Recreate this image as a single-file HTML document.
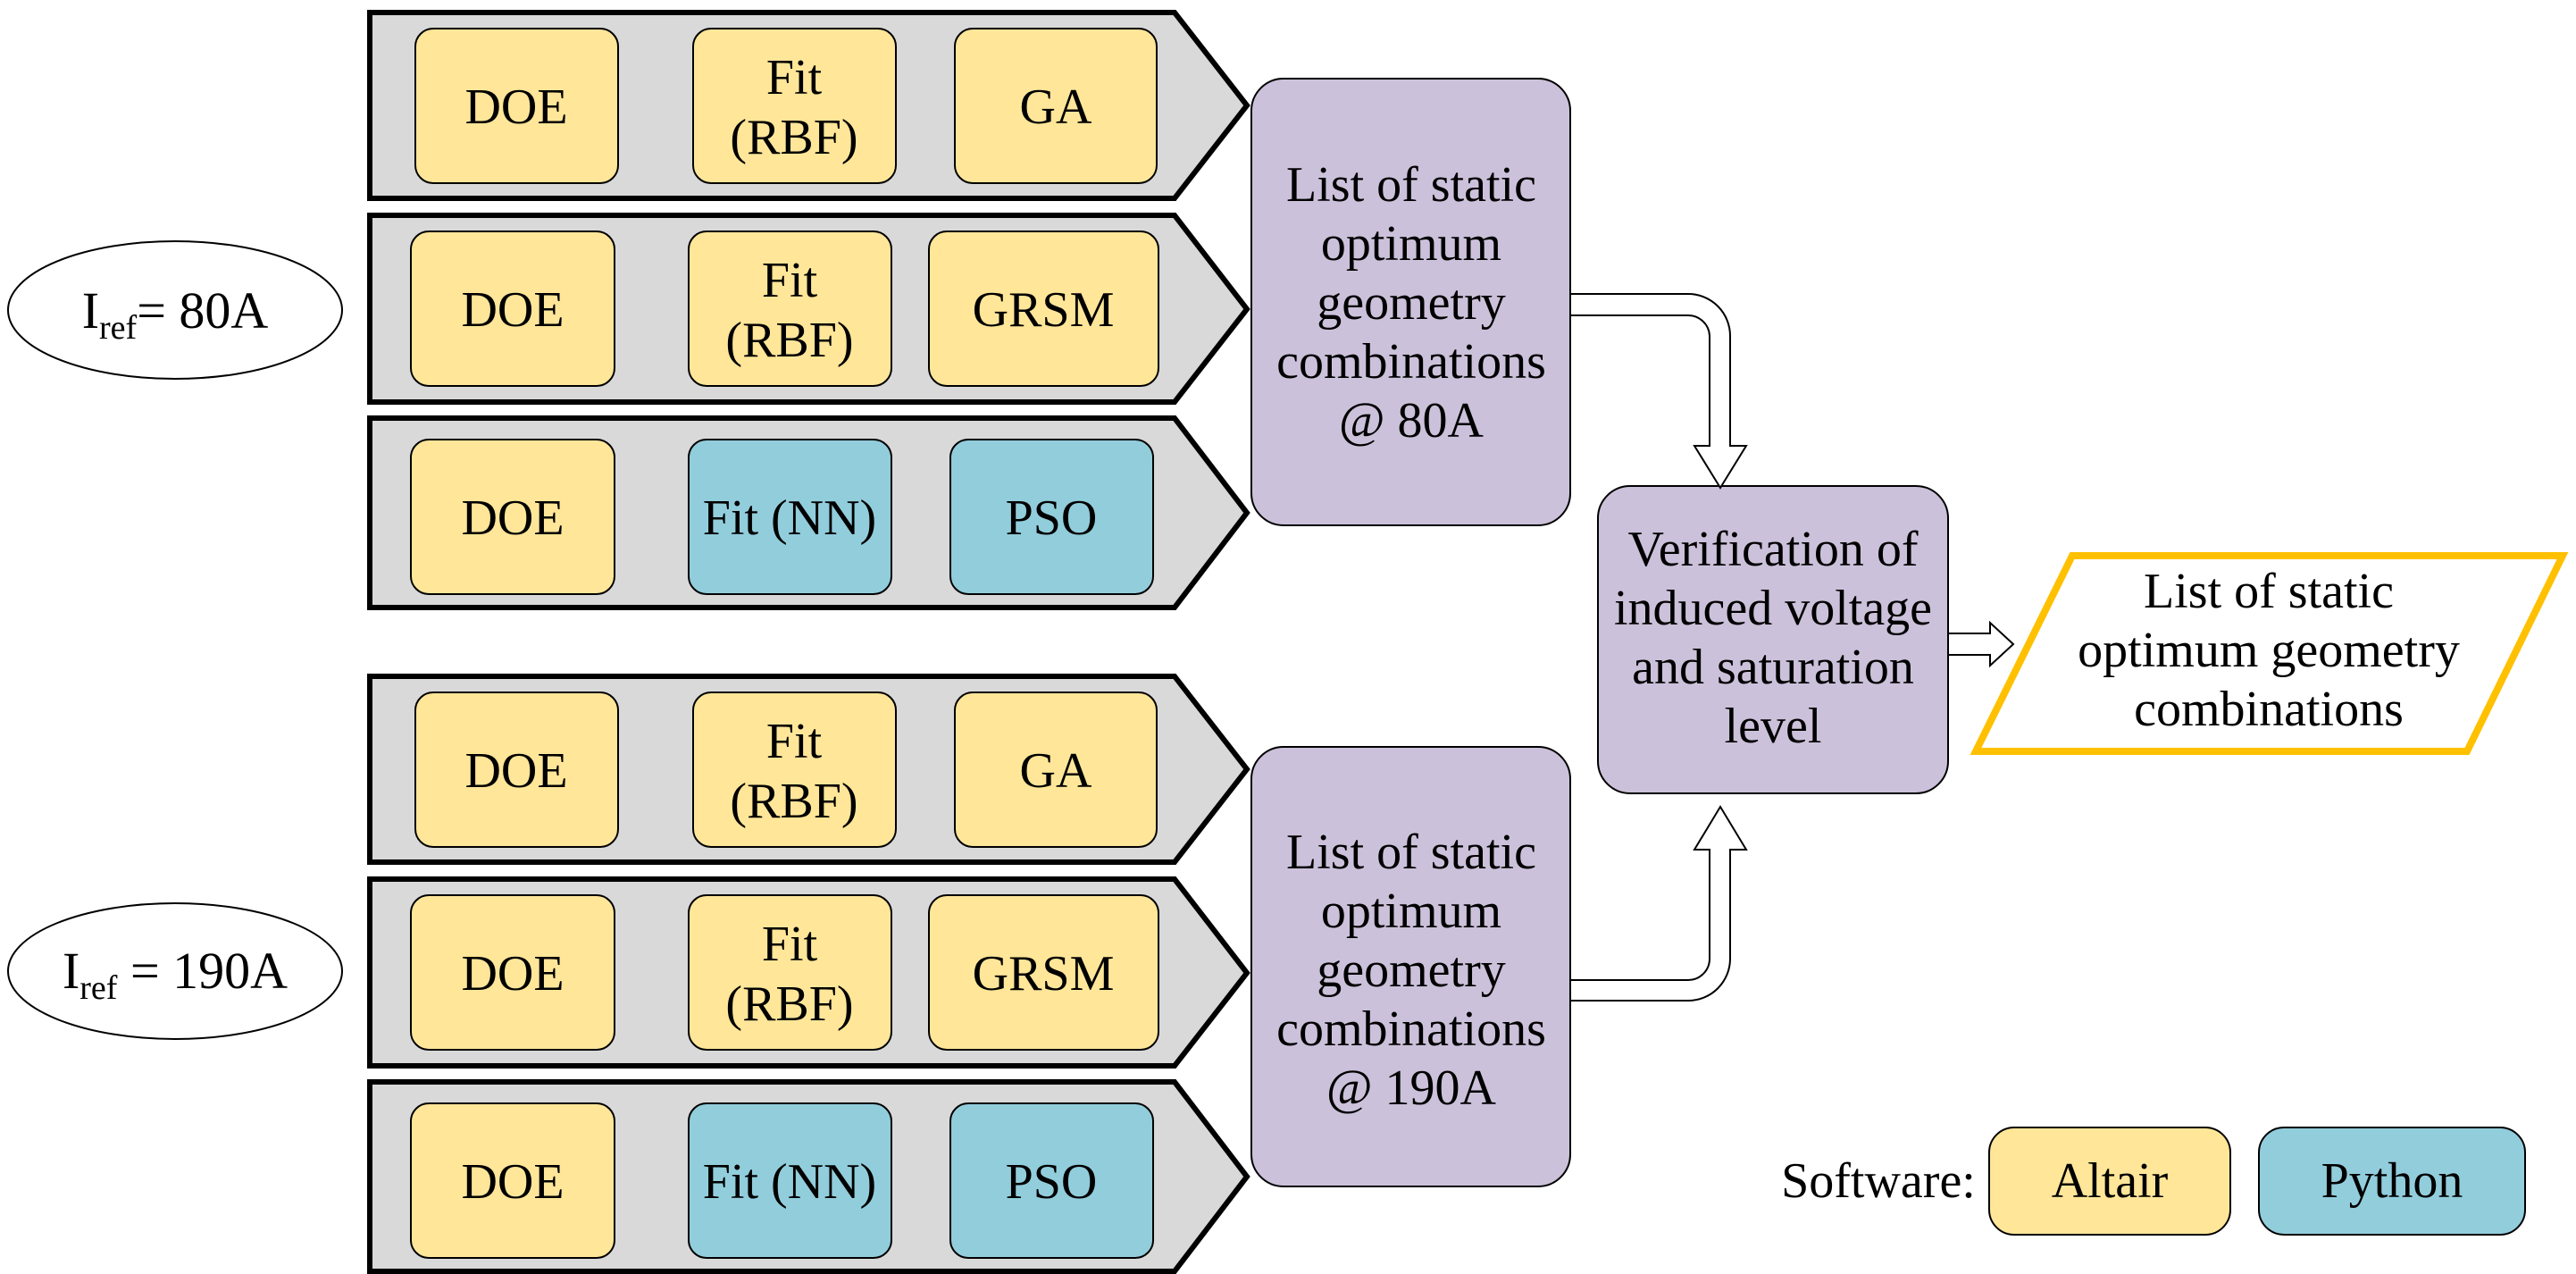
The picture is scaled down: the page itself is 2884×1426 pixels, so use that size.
<!DOCTYPE html>
<html><head><meta charset="utf-8"><style>
html,body{margin:0;padding:0;background:#fff;font-family:"Liberation Serif",serif;}
svg{display:block;}
svg *, svg text, svg tspan{font-family:"Liberation Serif",serif !important;}
</style></head><body>
<svg width="2884" height="1426" viewBox="0 0 2884 1426" xmlns="http://www.w3.org/2000/svg" font-family="Liberation Serif" font-size="56" text-anchor="middle">
<g>
  <polygon points="414,14 1315,14 1396,118 1315,222 414,222" fill="#d9d9d9" stroke="#000" stroke-width="6"/>
  <polygon points="414,241 1315,241 1396,346 1315,450 414,450" fill="#d9d9d9" stroke="#000" stroke-width="6"/>
  <polygon points="414,468 1315,468 1396,574 1315,680 414,680" fill="#d9d9d9" stroke="#000" stroke-width="6"/>
  <rect x="465" y="32" width="227" height="173" rx="20" fill="#ffe699" stroke="#000" stroke-width="2"/>
  <rect x="776" y="32" width="227" height="173" rx="20" fill="#ffe699" stroke="#000" stroke-width="2"/>
  <rect x="1069" y="32" width="226" height="173" rx="20" fill="#ffe699" stroke="#000" stroke-width="2"/>
  <rect x="460" y="259" width="228" height="173" rx="20" fill="#ffe699" stroke="#000" stroke-width="2"/>
  <rect x="771" y="259" width="227" height="173" rx="20" fill="#ffe699" stroke="#000" stroke-width="2"/>
  <rect x="1040" y="259" width="257" height="173" rx="20" fill="#ffe699" stroke="#000" stroke-width="2"/>
  <rect x="460" y="492" width="228" height="173" rx="20" fill="#ffe699" stroke="#000" stroke-width="2"/>
  <rect x="771" y="492" width="227" height="173" rx="20" fill="#92cddc" stroke="#000" stroke-width="2"/>
  <rect x="1064" y="492" width="227" height="173" rx="20" fill="#92cddc" stroke="#000" stroke-width="2"/>
  <text x="578" y="138">DOE</text>
  <text x="889" y="105">Fit</text><text x="889" y="172">(RBF)</text>
  <text x="1182" y="138">GA</text>
  <text x="574" y="365">DOE</text>
  <text x="884" y="332">Fit</text><text x="884" y="399">(RBF)</text>
  <text x="1168" y="365">GRSM</text>
  <text x="574" y="598">DOE</text>
  <text x="884" y="598">Fit (NN)</text>
  <text x="1177" y="598">PSO</text>
</g>
<g transform="translate(0,743)">
  <polygon points="414,14 1315,14 1396,118 1315,222 414,222" fill="#d9d9d9" stroke="#000" stroke-width="6"/>
  <polygon points="414,241 1315,241 1396,346 1315,450 414,450" fill="#d9d9d9" stroke="#000" stroke-width="6"/>
  <polygon points="414,468 1315,468 1396,574 1315,680 414,680" fill="#d9d9d9" stroke="#000" stroke-width="6"/>
  <rect x="465" y="32" width="227" height="173" rx="20" fill="#ffe699" stroke="#000" stroke-width="2"/>
  <rect x="776" y="32" width="227" height="173" rx="20" fill="#ffe699" stroke="#000" stroke-width="2"/>
  <rect x="1069" y="32" width="226" height="173" rx="20" fill="#ffe699" stroke="#000" stroke-width="2"/>
  <rect x="460" y="259" width="228" height="173" rx="20" fill="#ffe699" stroke="#000" stroke-width="2"/>
  <rect x="771" y="259" width="227" height="173" rx="20" fill="#ffe699" stroke="#000" stroke-width="2"/>
  <rect x="1040" y="259" width="257" height="173" rx="20" fill="#ffe699" stroke="#000" stroke-width="2"/>
  <rect x="460" y="492" width="228" height="173" rx="20" fill="#ffe699" stroke="#000" stroke-width="2"/>
  <rect x="771" y="492" width="227" height="173" rx="20" fill="#92cddc" stroke="#000" stroke-width="2"/>
  <rect x="1064" y="492" width="227" height="173" rx="20" fill="#92cddc" stroke="#000" stroke-width="2"/>
  <text x="578" y="138">DOE</text>
  <text x="889" y="105">Fit</text><text x="889" y="172">(RBF)</text>
  <text x="1182" y="138">GA</text>
  <text x="574" y="365">DOE</text>
  <text x="884" y="332">Fit</text><text x="884" y="399">(RBF)</text>
  <text x="1168" y="365">GRSM</text>
  <text x="574" y="598">DOE</text>
  <text x="884" y="598">Fit (NN)</text>
  <text x="1177" y="598">PSO</text>
</g>

<ellipse cx="196" cy="347" rx="187" ry="77" fill="#fff" stroke="#000" stroke-width="2"/>
<text x="196" y="367" font-size="58">I<tspan font-size="38" dy="12">ref</tspan><tspan dy="-12">= 80A</tspan></text>
<ellipse cx="196" cy="1087" rx="187" ry="76" fill="#fff" stroke="#000" stroke-width="2"/>
<text x="196" y="1106" font-size="58">I<tspan font-size="38" dy="12">ref</tspan><tspan dy="-12"> = 190A</tspan></text>

<rect x="1401" y="88" width="357" height="500" rx="36" fill="#ccc1da" stroke="#000" stroke-width="2"/>
<text x="1580" y="225">List of static</text>
<text x="1580" y="291">optimum</text>
<text x="1580" y="357">geometry</text>
<text x="1580" y="423">combinations</text>
<text x="1580" y="489">@ 80A</text>

<rect x="1401" y="836" width="357" height="492" rx="36" fill="#ccc1da" stroke="#000" stroke-width="2"/>
<text x="1580" y="972">List of static</text>
<text x="1580" y="1038">optimum</text>
<text x="1580" y="1104">geometry</text>
<text x="1580" y="1170">combinations</text>
<text x="1580" y="1236">@ 190A</text>

<rect x="1789" y="544" width="392" height="344" rx="36" fill="#ccc1da" stroke="#000" stroke-width="2"/>
<text x="1985" y="633">Verification of</text>
<text x="1985" y="699">induced voltage</text>
<text x="1985" y="765">and saturation</text>
<text x="1985" y="831">level</text>

<path d="M1758,329 H1890 A47,47 0 0 1 1937,376 V499 H1955 L1926,546 L1897,499 H1914 V376 A24,24 0 0 0 1890,353 H1758 Z" fill="#fff" stroke="#000" stroke-width="2"/>
<path d="M1758,1120 H1890 A47,47 0 0 0 1937,1073 V951 H1955 L1926,903 L1897,951 H1914 V1073 A24,24 0 0 1 1890,1097 H1758 Z" fill="#fff" stroke="#000" stroke-width="2"/>
<path d="M2181,709 H2228 V697 L2254,721 L2228,745 V733 H2181 Z" fill="#fff" stroke="#000" stroke-width="2"/>

<polygon points="2320,622 2869,622 2762,841 2212,841" fill="#fff" stroke="#ffc000" stroke-width="8"/>
<text x="2540" y="680">List of static</text>
<text x="2540" y="746">optimum geometry</text>
<text x="2540" y="812">combinations</text>

<text x="2103" y="1340">Software:</text>
<rect x="2227" y="1262" width="270" height="120" rx="28" fill="#ffe699" stroke="#000" stroke-width="2"/>
<text x="2362" y="1340">Altair</text>
<rect x="2529" y="1262" width="298" height="120" rx="28" fill="#92cddc" stroke="#000" stroke-width="2"/>
<text x="2678" y="1340">Python</text>
</svg>
</body></html>
